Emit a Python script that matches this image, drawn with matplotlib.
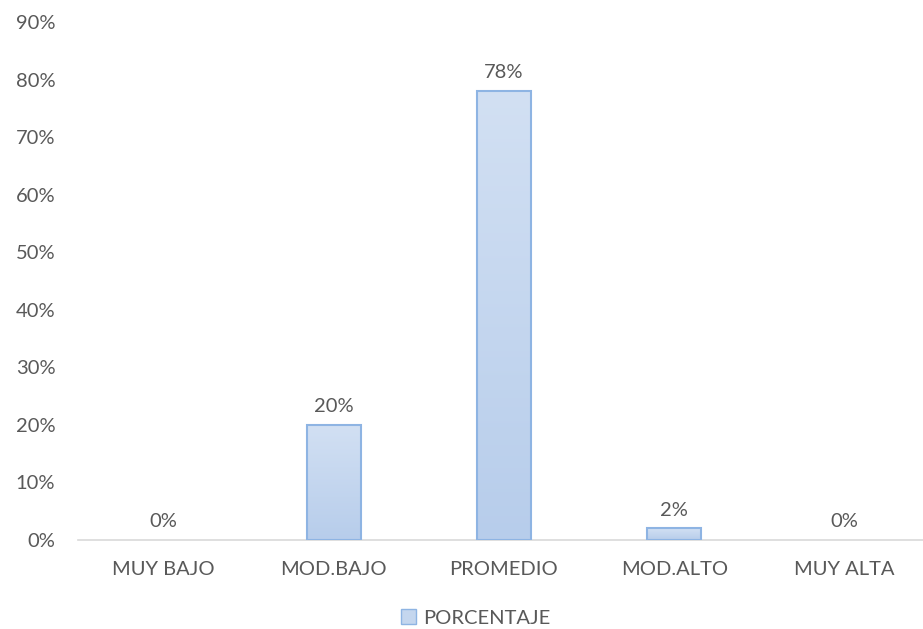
import matplotlib.pyplot as plt
import numpy as np
from matplotlib.patches import Patch
from matplotlib.colors import LinearSegmentedColormap

categorias = ['MUY BAJO', 'MOD.BAJO', 'PROMEDIO', 'MOD.ALTO', 'MUY ALTA']
porcentaje = [0, 20, 78, 2, 0]
serie = 'PORCENTAJE'

gris = '#595959'
borde = '#8eb4e3'

plt.rcParams['font.family'] = ['Lato', 'DejaVu Sans']

fig = plt.figure(figsize=(9.23, 6.29), dpi=100)
ax = fig.add_axes([0.0847, 0.1415, 0.9225, 0.8235])

x = np.arange(len(categorias))
barras = ax.bar(x, porcentaje, width=0.317, color='#c4d6ee', edgecolor=borde, linewidth=1.5, zorder=2)

# degradado vertical dentro de cada barra
grad = np.linspace(0, 1, 256).reshape(-1, 1)
cmap = LinearSegmentedColormap.from_list('g', ['#b7cdeb', '#d2e0f3'])
for b in barras:
    if b.get_height() <= 0:
        b.set_visible(False)
        continue
    x0, y0 = b.get_x(), b.get_y()
    im = ax.imshow(grad, extent=(x0, x0 + b.get_width(), y0, y0 + b.get_height()),
                   origin='lower', cmap=cmap, aspect='auto', zorder=2)
    im.set_clip_path(b)
    b.set_facecolor('none')
    b.set_zorder(3)

for xi, v in zip(x, porcentaje):
    ax.text(xi, v + 1.7, f'{v}%', ha='center', va='bottom', fontsize=14.5, color=gris)

ax.set_xlim(-0.5, len(categorias) - 0.5)
ax.set_ylim(0, 90)
ax.set_yticks(np.arange(0, 91, 10))
ax.set_yticklabels([f'{t}%' for t in range(0, 91, 10)])
ax.set_xticks(x)
ax.set_xticklabels(categorias)
ax.tick_params(axis='both', length=0, labelsize=14.5, colors=gris)
ax.tick_params(axis='y', pad=16.5)
ax.tick_params(axis='x', pad=15)

for s in ['top', 'right', 'left']:
    ax.spines[s].set_visible(False)
ax.spines['bottom'].set_color('#d9d9d9')
ax.spines['bottom'].set_linewidth(1.2)

leg = fig.legend(handles=[Patch(facecolor='#c4d6ee', edgecolor=borde, label=serie)],
                 loc='center', bbox_to_anchor=(0.515, 0.0175), frameon=False,
                 fontsize=14.5, handlelength=0.75, handleheight=0.75, handletextpad=0.35)
for t in leg.get_texts():
    t.set_color(gris)

fig.savefig('out.png', dpi=100)
